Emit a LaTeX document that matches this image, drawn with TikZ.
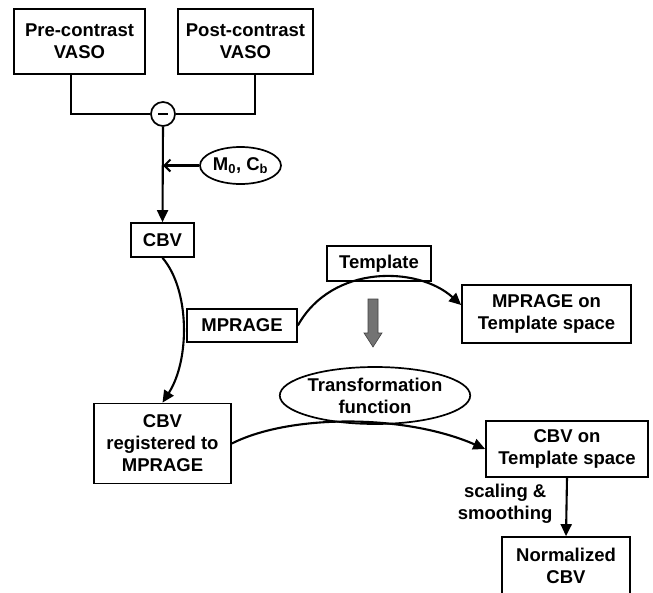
\documentclass[tikz,border=0pt]{standalone}
\usepackage{fontspec}
\setmainfont{Liberation Sans}
\usetikzlibrary{arrows.meta,shapes.geometric}
\begin{document}
\begin{tikzpicture}[x=1pt,y=-1pt,
  every node/.style={font=\bfseries\fontsize{18.5}{22}\selectfont, align=center, inner sep=0pt},
  box/.style={draw, line width=1.7pt, rectangle},
  oval/.style={draw, line width=1.7pt, ellipse},
  conn/.style={draw, line width=2.1pt},
  arr/.style={conn, -{Triangle[length=12pt,width=11pt]}},
  barb/.style={conn, -{Straight Barb[length=6pt,width=12pt]}}
]
\useasboundingbox (0,0) rectangle (653,592);
% nodes
\node[box, minimum width=131pt, minimum height=65pt] (pre) at (79.5,41.5) {Pre-contrast\\VASO};
\node[box, minimum width=135pt, minimum height=65pt] (post) at (245.5,41.5) {Post-contrast\\VASO};
\node[draw, circle, line width=1.7pt, minimum size=24pt] (minus) at (163,114) {};
\draw[line width=1.7pt] ([xshift=-5pt]minus.center) -- ([xshift=5pt]minus.center);
\node[oval, minimum width=81pt, minimum height=37pt] (m0) at (240.5,165.5) {M\textsubscript{0}, C\textsubscript{b}};
\node[box, minimum width=63pt, minimum height=34pt] (cbv) at (162.5,240) {CBV};
\node[box, minimum width=104pt, minimum height=35pt] (template) at (379,263.5) {Template};
\node[box, minimum width=110pt, minimum height=33pt] (mprage) at (242,325.5) {MPRAGE};
\node[box, minimum width=169pt, minimum height=58pt] (mpt) at (546.5,314) {MPRAGE on\\Template space};
\node[oval, minimum width=180pt, minimum height=57pt] (transf) at (375,395.5) {Transformation\\function};
\node[box, minimum width=137pt, minimum height=80pt] (cbvreg) at (162.5,443.5) {CBV\\registered to\\MPRAGE};
\node[box, minimum width=162pt, minimum height=56pt] (cbvt) at (567,449) {CBV on\\Template space};
\node[box, minimum width=128pt, minimum height=58pt] (norm) at (566,566) {Normalized\\CBV};
% connectors
\path[conn] ([xshift=-8.5pt]pre.south) |- (minus.west);
\path[conn] ([xshift=9.5pt]post.south) |- (minus.east);
\path[arr] (minus.south) -- (cbv.north);
\path[barb] (m0.west) -- (m0.west -| minus.center);
\path[arr] (cbv.south) .. controls (190,290) and (190,360) .. (cbvreg.north);
\path[arr] (mprage.east) .. controls (332,264) and (418,266) .. ([yshift=9pt]mpt.west);
\path[arr] (cbvreg.east) .. controls (290,414) and (405,414) .. (cbvt.west);
\path[arr] (cbvt.south) -- node[midway, left, xshift=-13pt, yshift=3pt, align=center] {scaling \&\\smoothing} (norm.north);
% gray block arrow
\filldraw[fill=black!55, draw=black!75, line width=0.6pt]
  (368,299) -- (378,299) -- (378,333) -- (382,333) -- (373,347) -- (364,333) -- (368,333) -- cycle;
\end{tikzpicture}
\end{document}
